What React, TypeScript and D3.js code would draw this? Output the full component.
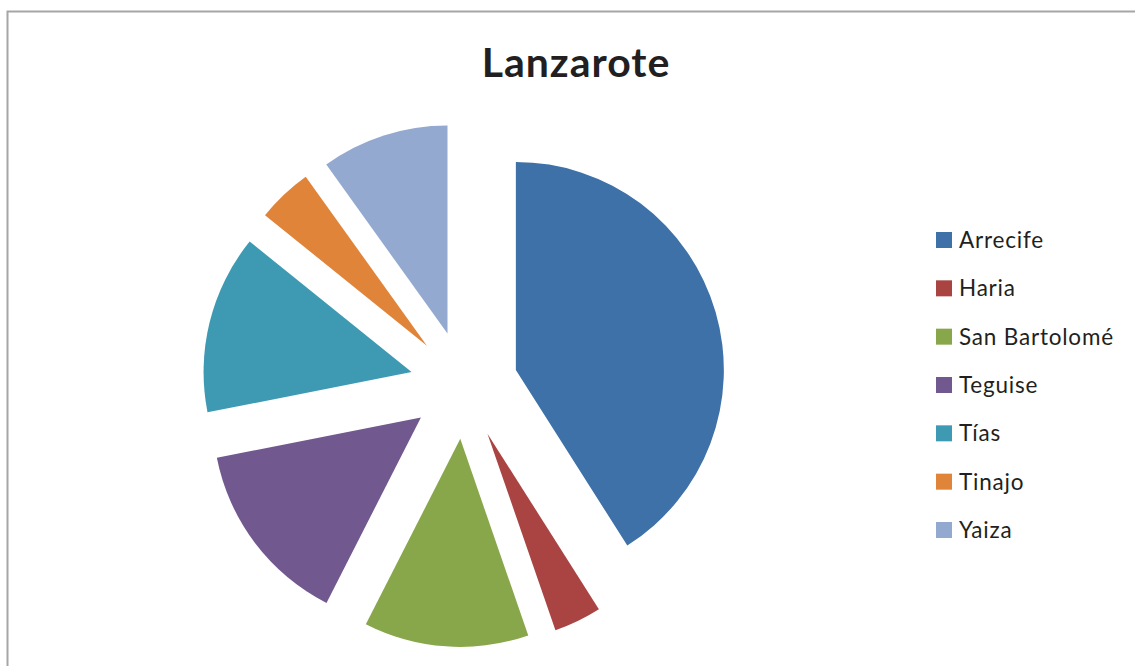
import React from "react";
import * as d3 from "d3";

const categories = ["Arrecife", "Haria", "San Bartolomé", "Teguise", "Tías", "Tinajo", "Yaiza"];
const values = [41.0, 3.7, 12.8, 14.4, 13.9, 4.3, 9.9];
const colors = ["#3E71A8", "#A94442", "#88A74B", "#71588F", "#3E9AB3", "#E0843A", "#93A9CF"];
const title = "Lanzarote";

export default function App() {
  const W = 1135, H = 666;
  const cx = 464, cy = 385, R = 208, explode = 54;
  const pie = d3.pie<number>().sort(null).value((d) => d).startAngle(0).endAngle(2 * Math.PI);
  const arcs = pie(values);
  const arc = d3.arc<d3.PieArcDatum<number>>().innerRadius(0).outerRadius(R);
  const legendY = d3.scaleLinear().domain([0, categories.length - 1]).range([240, 530]);

  return (
    <svg width={W} height={H} style={{ position: "absolute", left: 0, top: 0, display: "block", background: "#fff" }}>
      <rect x={7.5} y={11.5} width={1140} height={700} fill="#fff" stroke="#a6a6a6" strokeWidth={2} />
      <text x={576} y={77} textAnchor="middle" fontFamily="Lato, 'Open Sans', sans-serif" fontWeight={700} fontSize={41} letterSpacing={1.0} fill="#231f20">
        {title}
      </text>
      <g transform={`translate(${cx},${cy})`}>
        {arcs.map((a, i) => {
          const mid = (a.startAngle + a.endAngle) / 2;
          const dx = Math.sin(mid) * explode;
          const dy = -Math.cos(mid) * explode;
          return <path key={i} d={arc(a) || ""} fill={colors[i]} transform={`translate(${dx},${dy})`} />;
        })}
      </g>
      <g>
        {categories.map((c, i) => (
          <g key={c} transform={`translate(0,${legendY(i)})`}>
            <rect x={936} y={-8} width={16} height={16} fill={colors[i]} />
            <text x={959} y={8} fontFamily="Lato, 'Open Sans', sans-serif" fontSize={22.5} letterSpacing={0.8} fill="#231f20">
              {c}
            </text>
          </g>
        ))}
      </g>
    </svg>
  );
}
